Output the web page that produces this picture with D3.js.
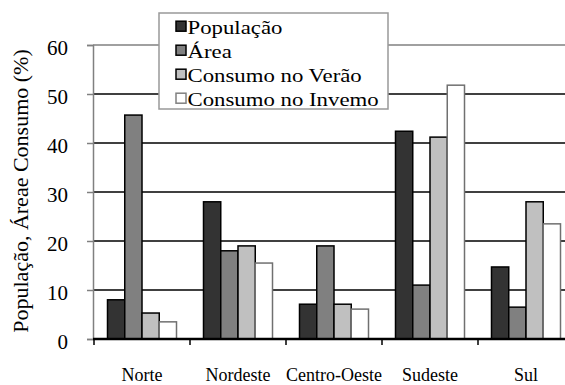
<!DOCTYPE html>
<html>
<head>
<meta charset="utf-8">
<script src="https://cdn.jsdelivr.net/npm/d3@7"></script>
<style>
  html, body { margin: 0; padding: 0; background: #fff; }
  svg { display: block; }
  svg text { font-family: 'Liberation Serif', 'Times New Roman', Times, serif; }
</style>
</head>
<body>
<svg id="chart" width="565" height="385"></svg>
<script>
// Regional shares (%) of population, area and electricity consumption
const categories = ["Norte", "Nordeste", "Centro-Oeste", "Sudeste", "Sul"];
const seriesNames = ["População", "Área", "Consumo no Verão", "Consumo no Invemo"];
const populacao      = [8.0, 28.0, 7.1, 42.4, 14.7];
const area           = [45.7, 18.0, 19.0, 11.0, 6.5];
const consumoVerao   = [5.3, 19.0, 7.1, 41.2, 28.0];
const consumoInverno = [3.5, 15.5, 6.1, 51.8, 23.5];
const yTicks = [0, 10, 20, 30, 40, 50, 60];
const yTitle = "População, Áreae Consumo (%)";

const FONT = "'Liberation Serif', 'Times New Roman', Times, serif";
const series = [populacao, area, consumoVerao, consumoInverno];
const fills   = ["#333333", "#808080", "#c0c0c0", "#ffffff"];
const strokes = ["#000000", "#000000", "#000000", "#707070"];

const svg = d3.select("#chart");

const y = d3.scaleLinear().domain([0, 60]).range([339, 45]);
const x = d3.scaleBand().domain(categories).range([94, 574]).padding(0);
const xs = d3.scaleBand().domain(d3.range(series.length)).range([13.5, 82.5]).padding(0);

// horizontal gridlines
svg.append("g").selectAll("line")
  .data(yTicks.filter(t => t > 0))
  .join("line")
  .attr("x1", 93).attr("x2", 565)
  .attr("y1", d => y(d)).attr("y2", d => y(d))
  .attr("stroke", d => d === 60 ? "#808080" : "#000")
  .attr("stroke-width", 1.5);

// bars
const rows = categories.map((c, i) => ({ cat: c, vals: series.map(s => s[i]) }));
svg.append("g").selectAll("g")
  .data(rows)
  .join("g")
  .attr("transform", d => `translate(${x(d.cat)},0)`)
  .selectAll("rect")
  .data(d => d.vals.map((v, k) => ({ v, k })))
  .join("rect")
  .attr("x", d => xs(d.k))
  .attr("width", xs.bandwidth())
  .attr("y", d => y(d.v))
  .attr("height", d => y(0) - y(d.v))
  .attr("fill", d => fills[d.k])
  .attr("stroke", d => strokes[d.k])
  .attr("stroke-width", 1.5);

// y axis
const yAxis = svg.append("g")
  .attr("transform", "translate(93,0)")
  .call(d3.axisLeft(y).tickValues(yTicks).tickSize(6).tickPadding(19).tickFormat(d3.format("d")));
yAxis.attr("font-family", FONT);
yAxis.select(".domain").attr("stroke", "#808080").attr("stroke-width", 1.5);
yAxis.selectAll(".tick line").attr("stroke", "#808080").attr("stroke-width", 1.5);
yAxis.selectAll(".tick text")
  .attr("font-size", 21).attr("fill", "#000")
  .attr("font-family", FONT)
  .attr("dy", "0.45em");

// x axis baseline and category ticks
svg.append("line")
  .attr("x1", 93).attr("x2", 565)
  .attr("y1", y(0)).attr("y2", y(0))
  .attr("stroke", "#000").attr("stroke-width", 2.5);
svg.append("g").selectAll("line")
  .data(categories)
  .join("line")
  .attr("x1", d => x(d)).attr("x2", d => x(d))
  .attr("y1", y(0)).attr("y2", y(0) + 6)
  .attr("stroke", "#000").attr("stroke-width", 1.5);
svg.append("g").selectAll("text")
  .data(categories)
  .join("text")
  .attr("x", d => x(d) + x.bandwidth() / 2)
  .attr("y", 381)
  .attr("text-anchor", "middle")
  .attr("font-family", FONT)
  .attr("font-size", 18)
  .text(d => d);

// y axis title
svg.append("text")
  .attr("transform", "translate(28,191) rotate(-90)")
  .attr("text-anchor", "middle")
  .attr("font-family", FONT)
  .attr("font-size", 22)
  .text(yTitle);

// legend
const legend = svg.append("g");
legend.append("rect")
  .attr("x", 159).attr("y", 13).attr("width", 229).attr("height", 96)
  .attr("fill", "#fff").attr("stroke", "#999").attr("stroke-width", 1.5);
const item = legend.selectAll("g.item")
  .data(seriesNames)
  .join("g")
  .attr("class", "item")
  .attr("transform", (d, i) => `translate(0,${34 + i * 24})`);
item.append("rect")
  .attr("x", 176).attr("y", -12.8).attr("width", 10).attr("height", 10)
  .attr("fill", (d, i) => fills[i])
  .attr("stroke", (d, i) => i === 3 ? "#808080" : "#000")
  .attr("stroke-width", 1.5);
item.append("text")
  .attr("transform", "translate(187.5,0) scale(1.2,1)")
  .attr("font-family", FONT)
  .attr("font-size", 19)
  .text(d => d);
</script>
</body>
</html>
